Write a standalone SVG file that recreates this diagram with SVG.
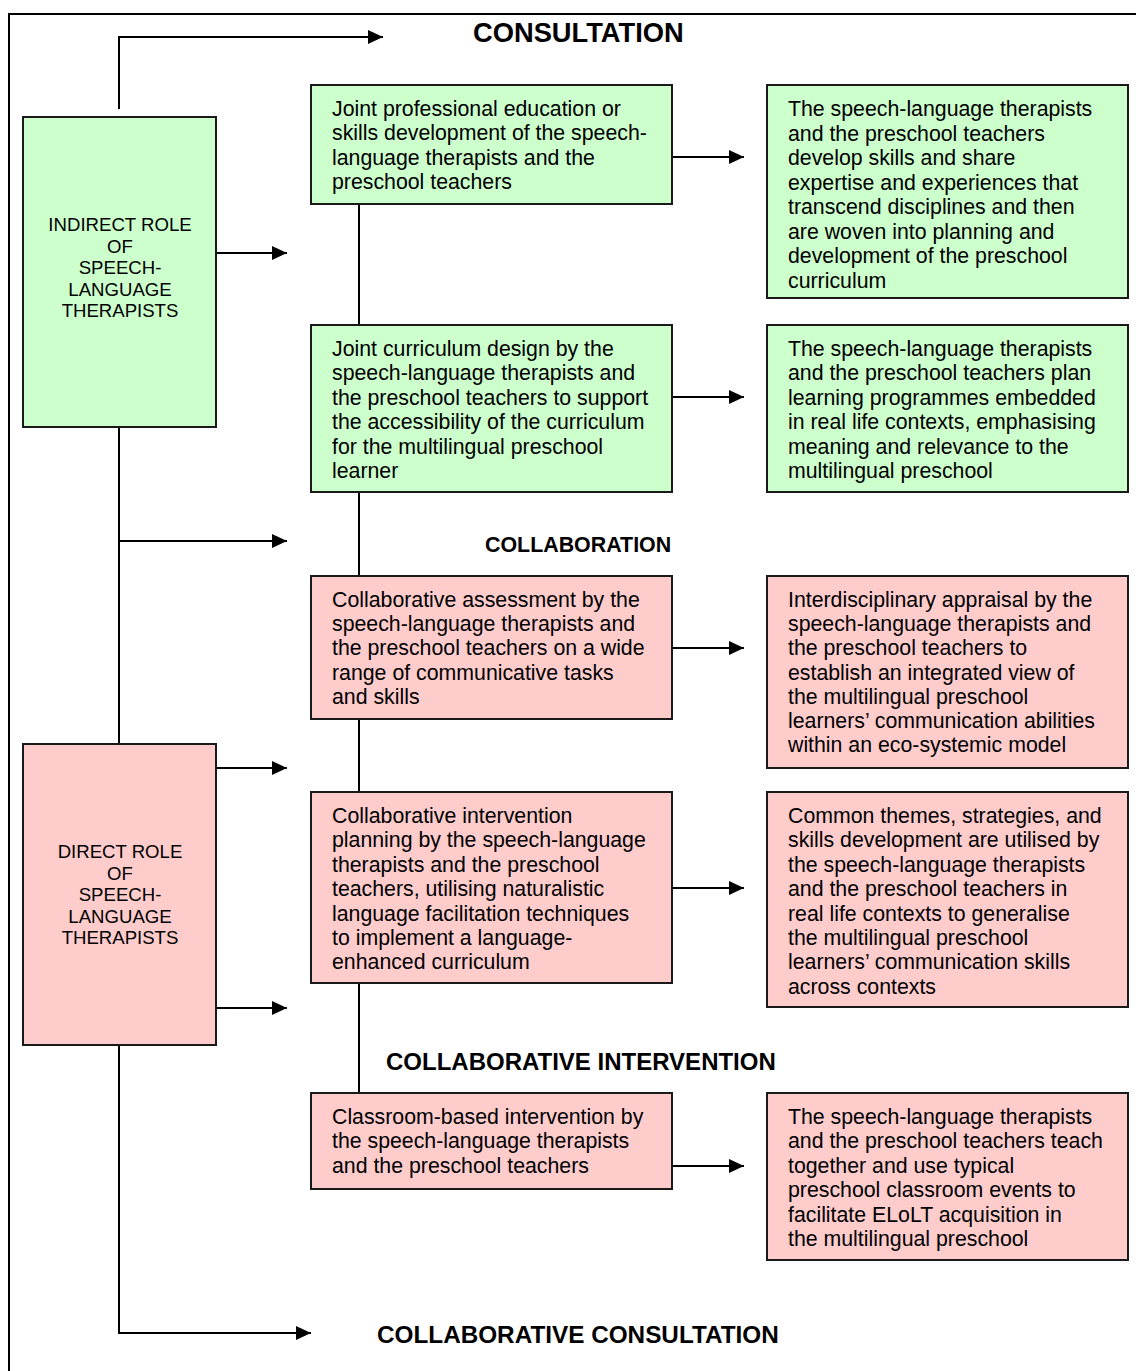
<svg xmlns="http://www.w3.org/2000/svg" width="1136" height="1371" viewBox="0 0 1136 1371">
<style>
.frame{fill:none;stroke:#000;stroke-width:2}
.g{fill:#CCFFCC;stroke:#1a1a1a;stroke-width:2}
.p{fill:#FFCCCC;stroke:#1a1a1a;stroke-width:2}
.t{font-family:"Liberation Sans",Arial,sans-serif;font-size:21.3px;fill:#000}
.lt{font-family:"Liberation Sans",Arial,sans-serif;font-size:18.6px;fill:#000;text-anchor:middle}
.h{font-family:"Liberation Sans",Arial,sans-serif;font-weight:bold;fill:#000}
.c{fill:none;stroke:#000;stroke-width:2}
</style>
<defs>
<marker id="arr" markerUnits="userSpaceOnUse" markerWidth="16" markerHeight="14" refX="15" refY="7" orient="auto">
<path d="M0,0 L15,7 L0,14 z" fill="#000"/>
</marker>
</defs>
<rect width="1136" height="1371" fill="#fff"/>
<rect class="frame" x="9" y="14" width="1150" height="1400"/>

<g id="connectors">
<polyline class="c" points="119,109 119,37 383,37" marker-end="url(#arr)"/>
<line class="c" x1="216" y1="253" x2="287" y2="253" marker-end="url(#arr)"/>
<line class="c" x1="119" y1="427" x2="119" y2="744"/>
<line class="c" x1="119" y1="541" x2="287" y2="541" marker-end="url(#arr)"/>
<line class="c" x1="216" y1="768" x2="287" y2="768" marker-end="url(#arr)"/>
<line class="c" x1="216" y1="1008" x2="287" y2="1008" marker-end="url(#arr)"/>
<polyline class="c" points="119,1045 119,1333 311,1333" marker-end="url(#arr)"/>
<line class="c" x1="359" y1="204" x2="359" y2="325"/>
<line class="c" x1="359" y1="492" x2="359" y2="576"/>
<line class="c" x1="359" y1="719" x2="359" y2="792"/>
<line class="c" x1="359" y1="983" x2="359" y2="1093"/>
<line class="c" x1="672" y1="157" x2="744" y2="157" marker-end="url(#arr)"/>
<line class="c" x1="672" y1="397" x2="744" y2="397" marker-end="url(#arr)"/>
<line class="c" x1="672" y1="648" x2="744" y2="648" marker-end="url(#arr)"/>
<line class="c" x1="672" y1="888" x2="744" y2="888" marker-end="url(#arr)"/>
<line class="c" x1="672" y1="1166" x2="744" y2="1166" marker-end="url(#arr)"/>
</g>

<g id="labels">
<text class="h" x="473" y="42" font-size="27.3">CONSULTATION</text>
<text class="h" x="485" y="552" font-size="21.4">COLLABORATION</text>
<text class="h" x="386" y="1070" font-size="24">COLLABORATIVE INTERVENTION</text>
<text class="h" x="377" y="1343" font-size="24.3">COLLABORATIVE CONSULTATION</text>
</g>

<g id="indirect">
<rect class="g" x="23" y="117" width="193" height="310"/>
<text class="lt"><tspan x="120" y="231">INDIRECT ROLE</tspan><tspan x="120" y="252.5">OF</tspan><tspan x="120" y="274">SPEECH-</tspan><tspan x="120" y="295.5">LANGUAGE</tspan><tspan x="120" y="317">THERAPISTS</tspan></text>
</g>

<g id="direct">
<rect class="p" x="23" y="744" width="193" height="301"/>
<text class="lt"><tspan x="120" y="858">DIRECT ROLE</tspan><tspan x="120" y="879.5">OF</tspan><tspan x="120" y="901">SPEECH-</tspan><tspan x="120" y="922.5">LANGUAGE</tspan><tspan x="120" y="944">THERAPISTS</tspan></text>
</g>

<g id="m1">
<rect class="g" x="311" y="85" width="361" height="119"/>
<text class="t"><tspan x="332" y="116">Joint professional education or</tspan><tspan x="332" dy="24.4">skills development of the speech-</tspan><tspan x="332" dy="24.4">language therapists and the</tspan><tspan x="332" dy="24.4">preschool teachers</tspan></text>
</g>

<g id="r1">
<rect class="g" x="767" y="85" width="361" height="213"/>
<text class="t"><tspan x="788" y="116">The speech-language therapists</tspan><tspan x="788" dy="24.5">and the preschool teachers</tspan><tspan x="788" dy="24.5">develop skills and share</tspan><tspan x="788" dy="24.5">expertise and experiences that</tspan><tspan x="788" dy="24.5">transcend disciplines and then</tspan><tspan x="788" dy="24.5">are woven into planning and</tspan><tspan x="788" dy="24.5">development of the preschool</tspan><tspan x="788" dy="24.5">curriculum</tspan></text>
</g>

<g id="m2">
<rect class="g" x="311" y="325" width="361" height="167"/>
<text class="t"><tspan x="332" y="356">Joint curriculum design by the</tspan><tspan x="332" dy="24.4">speech-language therapists and</tspan><tspan x="332" dy="24.4">the preschool teachers to support</tspan><tspan x="332" dy="24.4">the accessibility of the curriculum</tspan><tspan x="332" dy="24.4">for the multilingual preschool</tspan><tspan x="332" dy="24.4">learner</tspan></text>
</g>

<g id="r2">
<rect class="g" x="767" y="325" width="361" height="167"/>
<text class="t"><tspan x="788" y="356">The speech-language therapists</tspan><tspan x="788" dy="24.4">and the preschool teachers plan</tspan><tspan x="788" dy="24.4">learning programmes embedded</tspan><tspan x="788" dy="24.4">in real life contexts, emphasising</tspan><tspan x="788" dy="24.4">meaning and relevance to the</tspan><tspan x="788" dy="24.4">multilingual preschool</tspan></text>
</g>

<g id="m3">
<rect class="p" x="311" y="576" width="361" height="143"/>
<text class="t"><tspan x="332" y="607">Collaborative assessment by the</tspan><tspan x="332" dy="24.2">speech-language therapists and</tspan><tspan x="332" dy="24.2">the preschool teachers on a wide</tspan><tspan x="332" dy="24.2">range of communicative tasks</tspan><tspan x="332" dy="24.2">and skills</tspan></text>
</g>

<g id="r3">
<rect class="p" x="767" y="576" width="361" height="192"/>
<text class="t"><tspan x="788" y="607">Interdisciplinary appraisal by the</tspan><tspan x="788" dy="24.2">speech-language therapists and</tspan><tspan x="788" dy="24.2">the preschool teachers to</tspan><tspan x="788" dy="24.2">establish an integrated view of</tspan><tspan x="788" dy="24.2">the multilingual preschool</tspan><tspan x="788" dy="24.2">learners’ communication abilities</tspan><tspan x="788" dy="24.2">within an eco-systemic model</tspan></text>
</g>

<g id="m4">
<rect class="p" x="311" y="792" width="361" height="191"/>
<text class="t"><tspan x="332" y="823">Collaborative intervention</tspan><tspan x="332" dy="24.4">planning by the speech-language</tspan><tspan x="332" dy="24.4">therapists and the preschool</tspan><tspan x="332" dy="24.4">teachers, utilising naturalistic</tspan><tspan x="332" dy="24.4">language facilitation techniques</tspan><tspan x="332" dy="24.4">to implement a language-</tspan><tspan x="332" dy="24.4">enhanced curriculum</tspan></text>
</g>

<g id="r4">
<rect class="p" x="767" y="792" width="361" height="215"/>
<text class="t"><tspan x="788" y="823">Common themes, strategies, and</tspan><tspan x="788" dy="24.4">skills development are utilised by</tspan><tspan x="788" dy="24.4">the speech-language therapists</tspan><tspan x="788" dy="24.4">and the preschool teachers in</tspan><tspan x="788" dy="24.4">real life contexts to generalise</tspan><tspan x="788" dy="24.4">the multilingual preschool</tspan><tspan x="788" dy="24.4">learners’ communication skills</tspan><tspan x="788" dy="24.4">across contexts</tspan></text>
</g>

<g id="m5">
<rect class="p" x="311" y="1093" width="361" height="96"/>
<text class="t"><tspan x="332" y="1124">Classroom-based intervention by</tspan><tspan x="332" dy="24.4">the speech-language therapists</tspan><tspan x="332" dy="24.4">and the preschool teachers</tspan></text>
</g>

<g id="r5">
<rect class="p" x="767" y="1093" width="361" height="167"/>
<text class="t"><tspan x="788" y="1124">The speech-language therapists</tspan><tspan x="788" dy="24.4">and the preschool teachers teach</tspan><tspan x="788" dy="24.4">together and use typical</tspan><tspan x="788" dy="24.4">preschool classroom events to</tspan><tspan x="788" dy="24.4">facilitate ELoLT acquisition in</tspan><tspan x="788" dy="24.4">the multilingual preschool</tspan></text>
</g>
</svg>
